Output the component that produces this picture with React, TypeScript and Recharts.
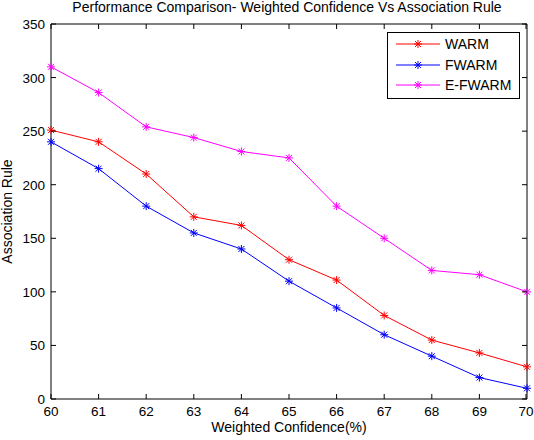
import { LineChart, Line, XAxis, YAxis } from "recharts";

const confidence = [60, 61, 62, 63, 64, 65, 66, 67, 68, 69, 70];
const warm = [251, 240, 210, 170, 162, 130, 111, 78, 55, 43, 30];
const fwarm = [240, 215, 180, 155, 140, 110, 85, 60, 40, 20, 10];
const efwarm = [310, 286, 254, 244, 231, 225, 180, 150, 120, 116, 100];
const xTicks = [60, 61, 62, 63, 64, 65, 66, 67, 68, 69, 70];
const yTicks = [0, 50, 100, 150, 200, 250, 300, 350];

const series = [
  { key: "warm", name: "WARM", color: "#ff0000" },
  { key: "fwarm", name: "FWARM", color: "#0000ff" },
  { key: "efwarm", name: "E-FWARM", color: "#ff00ff" },
];

const data = confidence.map((x, i) => ({ x, warm: warm[i], fwarm: fwarm[i], efwarm: efwarm[i] }));

const FONT = "'Liberation Sans', Arial, sans-serif";

function Star({ cx, cy, color }: { cx: number; cy: number; color: string }) {
  const r = 4;
  const d = 3;
  return (
    <g stroke={color} strokeWidth={1}>
      <line x1={cx - r} y1={cy} x2={cx + r} y2={cy} />
      <line x1={cx} y1={cy - r} x2={cx} y2={cy + r} />
      <line x1={cx - d} y1={cy - d} x2={cx + d} y2={cy + d} />
      <line x1={cx - d} y1={cy + d} x2={cx + d} y2={cy - d} />
    </g>
  );
}

const starDot = (color: string) => (props: any) => (
  <Star key={`${props.index}`} cx={props.cx} cy={props.cy} color={color} />
);

// MATLAB-style ticks: short marks pointing into the plot box
const BottomTick = ({ x, y, payload }: any) => (
  <g>
    <line x1={x} y1={y} x2={x} y2={y - 5} stroke="#000" />
    <text x={x} y={y + 17} textAnchor="middle" fontSize={13.5} fontFamily={FONT} fill="#000">
      {payload.value}
    </text>
  </g>
);
const TopTick = ({ x, y }: any) => <line x1={x} y1={y} x2={x} y2={y + 5} stroke="#000" />;
const LeftTick = ({ x, y, payload }: any) => (
  <g>
    <line x1={x} y1={y} x2={x + 5} y2={y} stroke="#000" />
    <text x={x - 6} y={y + 5} textAnchor="end" fontSize={13.5} fontFamily={FONT} fill="#000">
      {payload.value}
    </text>
  </g>
);
const RightTick = ({ x, y }: any) => <line x1={x} y1={y} x2={x - 5} y2={y} stroke="#000" />;

const YLabel = ({ viewBox }: any) => {
  const cy = viewBox.y + viewBox.height / 2;
  return (
    <text x={12} y={cy} transform={`rotate(-90, 12, ${cy})`} textAnchor="middle" fontSize={14} fontFamily={FONT} fill="#000">
      Association Rule
    </text>
  );
};

const TitleLabel = ({ viewBox }: any) => (
  <text x={viewBox.x + viewBox.width / 2 - 2} y={12} textAnchor="middle" fontSize={14} fontFamily={FONT} fill="#000">
    Performance Comparison- Weighted Confidence Vs Association Rule
  </text>
);

const LegendBox = () => (
  <div
    style={{
      position: "absolute",
      left: 387,
      top: 32,
      width: 131,
      height: 64,
      border: "1px solid #000",
      background: "#fff",
      fontFamily: FONT,
      fontSize: 14,
      paddingTop: 1,
      boxSizing: "content-box",
    }}
  >
    {series.map((s) => (
      <div key={s.key} style={{ display: "flex", alignItems: "center", height: 20.5 }}>
        <svg width={54} height={20} style={{ display: "block" }}>
          <line x1={8} y1={10} x2={52} y2={10} stroke={s.color} />
          <Star cx={30} cy={10} color={s.color} />
        </svg>
        <span style={{ marginLeft: 3 }}>{s.name}</span>
      </div>
    ))}
  </div>
);

export default function App() {
  return (
    <div style={{ position: "absolute", left: 0, top: 0, width: 534, height: 440, background: "#fff" }}>
      <LineChart width={534} height={440} data={data} margin={{ top: 23, right: 6, bottom: 11, left: 6 }}>
        <XAxis
          dataKey="x"
          type="number"
          domain={[60, 70]}
          ticks={xTicks}
          xAxisId="bottom"
          height={30}
          tickSize={0}
          tickMargin={0}
          tick={<BottomTick />}
          tickLine={false}
          axisLine={{ stroke: "#000" }}
          label={{ value: "Weighted Confidence(%)", position: "bottom", offset: -7, fontSize: 14, fontFamily: FONT, fill: "#000" }}
        />
        <XAxis
          dataKey="x"
          type="number"
          domain={[60, 70]}
          ticks={xTicks}
          xAxisId="top"
          orientation="top"
          height={1}
          tickSize={0}
          tickMargin={0}
          tick={<TopTick />}
          tickLine={false}
          axisLine={{ stroke: "#000" }}
          label={<TitleLabel />}
        />
        <YAxis
          yAxisId="left"
          type="number"
          domain={[0, 350]}
          ticks={yTicks}
          width={45}
          tickSize={0}
          tickMargin={0}
          tick={<LeftTick />}
          tickLine={false}
          axisLine={{ stroke: "#000" }}
          label={<YLabel />}
        />
        <YAxis
          yAxisId="right"
          orientation="right"
          type="number"
          domain={[0, 350]}
          ticks={yTicks}
          width={1}
          tickSize={0}
          tickMargin={0}
          tick={<RightTick />}
          tickLine={false}
          axisLine={{ stroke: "#000" }}
        />
        {/* invisible series so the top and right frame axes get drawn */}
        <Line
          xAxisId="top"
          yAxisId="right"
          dataKey="warm"
          stroke="none"
          dot={false}
          activeDot={false}
          legendType="none"
          isAnimationActive={false}
        />
        {series.map((s) => (
          <Line
            key={s.key}
            xAxisId="bottom"
            yAxisId="left"
            dataKey={s.key}
            name={s.name}
            stroke={s.color}
            strokeWidth={1}
            dot={starDot(s.color)}
            activeDot={false}
            isAnimationActive={false}
          />
        ))}
      </LineChart>
      <LegendBox />
    </div>
  );
}
